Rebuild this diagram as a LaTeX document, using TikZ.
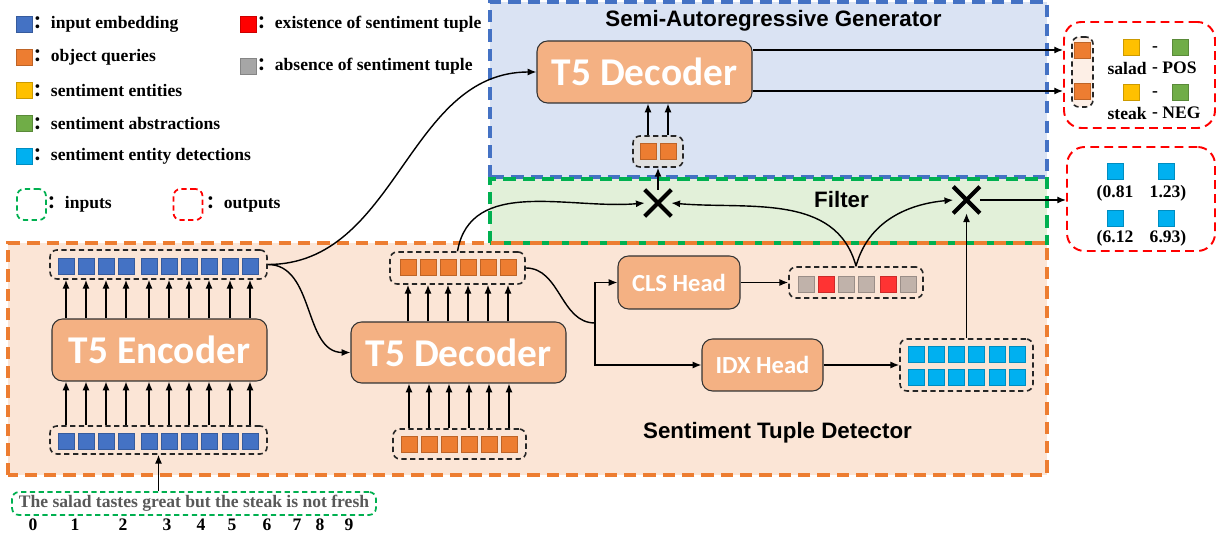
\documentclass[tikz,border=0pt]{standalone}
\usepackage{fontspec}
\setmainfont{Liberation Serif}
\newfontfamily\sans{Liberation Sans}
\newfontfamily\calib{Carlito}
\newfontfamily\cjk{Noto Sans CJK SC}
\usetikzlibrary{arrows.meta,calc,shapes.misc}
\definecolor{inblue}{HTML}{4472C4}
\definecolor{qorange}{HTML}{ED7D31}
\definecolor{entyel}{HTML}{FFC000}
\definecolor{absgreen}{HTML}{70AD47}
\definecolor{detcyan}{HTML}{00B0F0}
\definecolor{exred}{HTML}{FF0000}
\definecolor{absgray}{HTML}{A6A6A6}
\definecolor{clsgray}{HTML}{C0B2AA}
\definecolor{clsred}{HTML}{FF3333}
\definecolor{modfill}{HTML}{F4B183}
\definecolor{genfill}{HTML}{DAE3F3}
\definecolor{filfill}{HTML}{E2F0D9}
\definecolor{detfill}{HTML}{FBE5D6}
\definecolor{filline}{HTML}{00B050}
\definecolor{outred}{HTML}{FF0000}
\definecolor{sentgray}{HTML}{595959}

\begin{document}
\begin{tikzpicture}[font=\bfseries,>={Latex[length=5pt,width=4pt]}]
\tikzset{
  region/.style={line width=1.8pt,dash pattern=on 7pt off 4pt},
  title/.style={font=\sans\bfseries\fontsize{12.7}{15}\selectfont},
  module/.style={draw=black!80,fill=modfill,rounded corners=6pt,line width=.6pt,text=white},
  bigmod/.style={font=\calib\bfseries\fontsize{22.4}{26}\selectfont},
  smallmod/.style={font=\calib\bfseries\fontsize{14}{17}\selectfont},
  tok/.style={fill=#1,draw=#1!80!black,minimum size=.32cm,inner sep=0pt,line width=.4pt},
  holder/.style={draw=black!85,dash pattern=on 3pt off 2pt,rounded corners=4pt,line width=.9pt},
  keybox/.style={draw=#1,dash pattern=on 3pt off 2pt,rounded corners=4pt,line width=1pt,minimum width=.58cm,minimum height=.62cm},
  outbox/.style={draw=outred,dash pattern=on 5pt off 3pt,rounded corners=10pt,line width=1.1pt},
  mul/.style={cross out,draw,line width=2.4pt,minimum size=.32cm,inner sep=0pt,outer sep=3pt},
  flow/.style={->,line width=.8pt},
  keytext/.style={anchor=west,inner sep=0pt}
}
\useasboundingbox (0,0) rectangle (24.46,10.74);

\fill[genfill] (9.80,7.20) rectangle (20.94,10.70);
\fill[filfill] (9.80,5.88) rectangle (20.94,7.16);
\fill[detfill] (.16,1.24) rectangle (20.94,5.88);
\draw[region,inblue] (9.80,7.20) rectangle (20.94,10.70);
\draw[region,filline] (9.80,5.88) rectangle (20.94,7.16);
\draw[region,qorange] (.16,1.24) rectangle (20.94,5.88);
\node[title] (gtitle) at (15.47,10.32) {Semi-Autoregressive Generator};
\node[title] (ftitle) at (16.83,6.74) {Filter};
\node[title] (dtitle) at (15.55,2.08) {Sentiment Tuple Detector};

\foreach \c/\t [count=\k] in {inblue/input embedding,qorange/object queries,entyel/sentiment entities,absgreen/sentiment abstractions,detcyan/sentiment entity detections}{
  \node[tok=\c] (key\k) at (.48,{10.91-.66*\k}) {};
  \node[keytext] (keyt\k) at (.66,{10.91-.66*\k}) {{\cjk ：}\t};
}
\node[tok=exred] (key6) at (4.96,10.25) {};
\node[keytext] (keyt6) at (5.14,10.25) {{\cjk ：}existence of sentiment tuple};
\node[tok=absgray] (key7) at (4.96,9.42) {};
\node[keytext] (keyt7) at (5.14,9.42) {{\cjk ：}absence of sentiment tuple};
\node[keybox=filline] (keyin) at (.63,6.65) {};
\node[keytext] (keyint) at (.94,6.65) {{\cjk ：}inputs};
\node[keybox=outred] (keyout) at (3.76,6.65) {};
\node[keytext] (keyoutt) at (4.12,6.65) {{\cjk ：}outputs};

\node[module,bigmod,minimum width=4.30cm,minimum height=1.24cm] (enc) at (3.19,3.74) {T5 Encoder};
\node[holder,minimum width=4.34cm,minimum height=.58cm] (etop) at (3.17,5.45) {};
\node[holder,minimum width=4.34cm,minimum height=.56cm] (ebot) at (3.17,1.94) {};
\foreach \x [count=\i] in {1.32,1.72,2.12,2.52,2.98,3.38,3.78,4.18,4.60,5.00}{
  \node[tok=inblue] (et\i) at (\x,5.42) {};
  \node[tok=inblue] (eb\i) at (\x,1.92) {};
  \draw[flow] (enc.north -| et\i) -- (etop.south -| et\i);
  \draw[flow] (ebot.north -| eb\i) -- (enc.south -| eb\i);
}
\node[draw=filline,dash pattern=on 3pt off 2pt,rounded corners=4pt,line width=1pt,
  text=sentgray,minimum width=7.28cm,minimum height=.46cm,inner sep=1pt] (sent) at (3.88,.67)
  {The salad tastes great but the steak is not fresh};
\foreach \x [count=\n from 0] in {.66,1.50,2.46,3.34,4.02,4.64,5.34,5.94,6.40,6.98}{
  \node (w\n) at (\x,.24) {\n};
}
\draw[flow] (sent.north -| ebot) -- (ebot.south);

\node[module,bigmod,minimum width=4.30cm,minimum height=1.22cm] (ddec) at (9.17,3.69) {T5 Decoder};
\node[holder,minimum width=2.70cm,minimum height=.64cm] (qtop) at (9.15,5.38) {};
\node[holder,minimum width=2.66cm,minimum height=.60cm] (qbot) at (9.19,1.86) {};
\foreach \i in {1,...,6}{
  \node[tok=qorange] (qt\i) at ({7.76+.4*\i},5.40) {};
  \node[tok=qorange] (qb\i) at ({7.78+.4*\i},1.86) {};
  \draw[flow] (ddec.north -| qt\i) -- (qtop.south -| qt\i);
  \draw[flow] (qbot.north -| qb\i) -- (ddec.south -| qb\i);
}
\draw[flow] (etop.east) to[out=0,in=180] (ddec.west);

\node[module,smallmod,minimum width=2.44cm,minimum height=1.06cm] (cls) at (13.58,5.09) {CLS Head};
\node[module,smallmod,minimum width=2.42cm,minimum height=1.04cm] (idx) at (15.25,3.44) {IDX Head};
\coordinate (br) at (11.90,4.28);
\draw[line width=.8pt] (qtop.east) to[out=0,in=180] (br);
\draw[flow] (br) |- (cls.west);
\draw[flow] (br) |- (idx.west);

\node[holder,minimum width=2.68cm,minimum height=.62cm] (ccont) at (17.12,5.09) {};
\foreach \x/\c [count=\i] in {16.12/clsgray,16.52/clsred,16.92/clsgray,17.32/clsgray,17.76/clsred,18.16/clsgray}{
  \node[tok=\c] (cs\i) at (\x,5.06) {};
}
\node[holder,minimum width=2.66cm,minimum height=1.04cm] (icont) at (19.33,3.44) {};
\foreach \x [count=\i] in {18.32,18.72,19.12,19.52,19.94,20.34}{
  \node[tok=detcyan] (iu\i) at (\x,3.66) {};
  \node[tok=detcyan] (id\i) at (\x,3.20) {};
}
\draw[flow] (cls) -- (ccont);
\draw[flow] (idx) -- (icont);

\node[mul] (m1) at (13.16,6.68) {};
\node[mul] (m2) at (19.33,6.74) {};
\draw[flow] (qtop.north) to[out=80,in=185] (m1.west);
\draw[flow] (ccont.north) to[out=105,in=-5] (m1.east);
\draw[flow] (ccont.north) to[out=75,in=185] (m2.west);
\draw[flow] (icont.north) -- (m2.south);

\node[module,bigmod,minimum width=4.30cm,minimum height=1.24cm] (gdec) at (12.89,9.30) {T5 Decoder};
\node[holder,fill=black!12,minimum width=1.0cm,minimum height=.62cm] (gq) at (13.16,7.71) {};
\node[tok=qorange] (gq1) at (12.96,7.72) {};
\node[tok=qorange] (gq2) at (13.36,7.72) {};
\draw[flow] (m1.north) -- (gq.south);
\draw[flow] (gq1.north |- gq.north) -- (gq1 |- gdec.south);
\draw[flow] (gq2.north |- gq.north) -- (gq2 |- gdec.south);
\draw[flow] (etop.east) to[out=0,in=180] (gdec.west);

\node[outbox,minimum width=3.02cm,minimum height=2.12cm] (outA) at (22.79,9.24) {};
\node[holder,fill=detfill!60,minimum width=.42cm,minimum height=1.40cm] (pair) at (21.65,9.30) {};
\node[tok=qorange] (oq1) at (21.65,9.74) {};
\node[tok=qorange] (oq2) at (21.65,8.92) {};
\node[tok=entyel] (ye1) at (22.62,9.80) {};
\node (da1) at (23.10,9.76) {-};
\node[tok=absgreen] (gr1) at (23.60,9.80) {};
\node[anchor=east,inner sep=0pt] (ent1) at (22.94,9.38) {salad};
\node (db1) at (23.10,9.34) {-};
\node[anchor=west,inner sep=0pt] (pol1) at (23.24,9.38) {POS};
\node[tok=entyel] (ye2) at (22.62,8.90) {};
\node (da2) at (23.10,8.86) {-};
\node[tok=absgreen] (gr2) at (23.60,8.90) {};
\node[anchor=east,inner sep=0pt] (ent2) at (22.94,8.48) {steak};
\node (db2) at (23.10,8.44) {-};
\node[anchor=west,inner sep=0pt] (pol2) at (23.24,8.48) {NEG};
\draw[flow] (gdec.east |- oq1) -- (outA.west |- oq1);
\draw[flow] (gdec.east |- oq2) -- (outA.west |- oq2);

\node[outbox,minimum width=2.96cm,minimum height=2.08cm] (outB) at (22.82,6.76) {};
\node[tok=detcyan] (sp1) at (22.30,7.32) {};
\node[tok=detcyan] (sp2) at (23.32,7.32) {};
\node[tok=detcyan] (sp3) at (22.30,6.38) {};
\node[tok=detcyan] (sp4) at (23.32,6.38) {};
\node (sv1) at (22.30,6.88) {(0.81};
\node (sv2) at (23.36,6.88) {1.23)};
\node (sv3) at (22.30,5.98) {(6.12};
\node (sv4) at (23.36,5.98) {6.93)};
\draw[flow] (m2.east) -- (m2.east -| outB.west);
\end{tikzpicture}
\end{document}
